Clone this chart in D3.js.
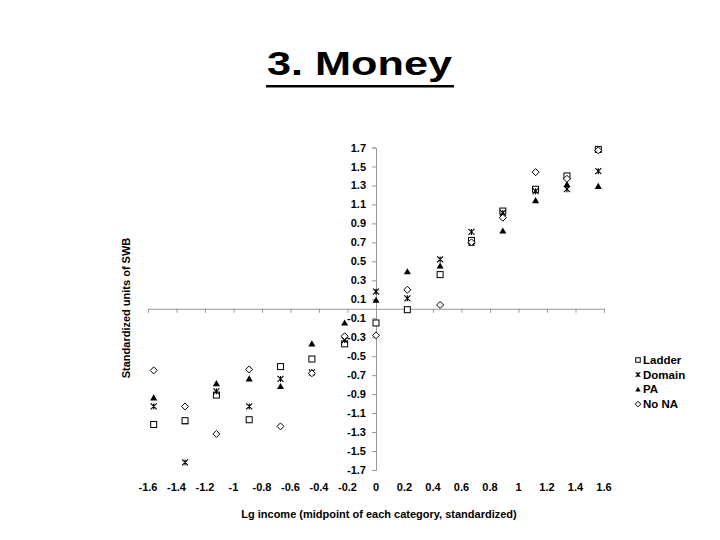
<!DOCTYPE html>
<html>
<head>
<meta charset="utf-8">
<script src="https://cdn.jsdelivr.net/npm/d3@7"></script>
<style>
  body { margin: 0; background: #fff; }
  text { font-family: "Liberation Sans", Arial, sans-serif; font-weight: bold; fill: #000; }
</style>
</head>
<body>
<div id="chart"></div>
<script>
// DATA
var incomeMid = [-1.56, -1.34, -1.12, -0.89, -0.67, -0.45, -0.22, 0, 0.22, 0.45, 0.67, 0.89, 1.12, 1.34, 1.56];
var ladder = [-1.22, -1.18, -0.91, -1.17, -0.61, -0.53, -0.37, -0.15, -0.01, 0.36, 0.72, 1.03, 1.26, 1.40, 1.68];
var domain = [-1.03, -1.62, -0.87, -1.03, -0.74, -0.67, -0.33, 0.18, 0.11, 0.52, 0.81, 1.01, 1.24, 1.26, 1.45];
var pa = [-0.94, -1.19, -0.79, -0.74, -0.82, -0.37, -0.15, 0.09, 0.39, 0.45, 0.69, 0.82, 1.14, 1.31, 1.29];
var noNA = [-0.65, -1.03, -1.32, -0.64, -1.24, -0.68, -0.29, -0.28, 0.20, 0.04, 0.70, 0.96, 1.44, 1.37, 1.67];

var xTicks = [-1.6, -1.4, -1.2, -1, -0.8, -0.6, -0.4, -0.2, 0, 0.2, 0.4, 0.6, 0.8, 1, 1.2, 1.4, 1.6];
var yTicks = [-1.7, -1.5, -1.3, -1.1, -0.9, -0.7, -0.5, -0.3, -0.1, 0.1, 0.3, 0.5, 0.7, 0.9, 1.1, 1.3, 1.5, 1.7];
var seriesNames = ["Ladder", "Domain", "PA", "No NA"];

function chart() {
  var width = 720, height = 540;
  var axisColor = "#999";

  var svg = d3.select("#chart").append("svg")
    .attr("width", width)
    .attr("height", height);

  // SCALES
  var xScale = d3.scaleLinear().domain([-1.6, 1.6]).range([148, 604]);
  var yScale = d3.scaleLinear().domain([-1.7, 1.7]).range([470, 147.5]);

  // TITLE
  svg.append("text")
    .attr("x", 267)
    .attr("y", 75)
    .attr("textLength", 185)
    .attr("lengthAdjust", "spacingAndGlyphs")
    .style("font-size", "33px")
    .text("3. Money");
  svg.append("rect")
    .attr("x", 266).attr("y", 85)
    .attr("width", 188).attr("height", 2.5)
    .attr("fill", "#000");

  // X AXIS (crosses at y = 0, labels at the bottom)
  var xAxis = d3.axisBottom(xScale).tickValues(xTicks).tickSize(4).tickFormat("");
  var gx = svg.append("g")
    .attr("transform", "translate(0," + yScale(0) + ")")
    .call(xAxis);
  gx.select(".domain").attr("stroke", axisColor);
  gx.selectAll(".tick line").attr("stroke", axisColor);

  svg.selectAll(".x-lab")
    .data(xTicks)
    .enter()
    .append("text")
    .attr("class", "x-lab")
    .attr("x", (d) => xScale(d))
    .attr("y", 491)
    .attr("text-anchor", "middle")
    .style("font-size", "11px")
    .text((d) => d3.format("")(d).replace("−", "-"));

  // Y AXIS (at x = 0)
  var yAxis = d3.axisLeft(yScale).tickValues(yTicks).tickSize(4).tickPadding(6)
    .tickFormat(d3.format(".1f"));
  var gy = svg.append("g")
    .attr("transform", "translate(" + xScale(0) + ",0)")
    .call(yAxis);
  gy.select(".domain").attr("stroke", axisColor);
  gy.selectAll(".tick line").attr("stroke", axisColor);
  gy.selectAll(".tick text")
    .style("font-size", "11px")
    .style("font-family", "'Liberation Sans', Arial, sans-serif")
    .style("font-weight", "bold")
    .attr("fill", "#000")
    .text((d) => d3.format(".1f")(d).replace("−", "-"));

  // AXIS TITLES
  svg.append("text")
    .attr("x", 379)
    .attr("y", 518)
    .attr("text-anchor", "middle")
    .style("font-size", "11px")
    .text("Lg income (midpoint of each category, standardized)");
  svg.append("text")
    .attr("transform", "translate(130,308) rotate(-90)")
    .attr("text-anchor", "middle")
    .style("font-size", "11px")
    .text("Standardized units of SWB");

  // MARKERS
  function drawMarker(g, type, sz) {
    var h = sz / 2;
    if (type == "Ladder") {
      g.append("rect").attr("x", -h).attr("y", -h)
        .attr("width", sz).attr("height", sz)
        .attr("fill", "#fff").attr("stroke", "#000").attr("stroke-width", 1);
    } else if (type == "Domain") {
      g.append("path")
        .attr("d", "M" + -h + "," + -h + "L" + h + "," + h + "M" + -h + "," + h + "L" + h + "," + -h +
          "M0," + -h + "L0," + h)
        .attr("stroke", "#000").attr("stroke-width", 1.1).attr("fill", "none");
    } else if (type == "PA") {
      g.append("path")
        .attr("d", d3.symbol(d3.symbolTriangle, sz * sz * 0.6)())
        .attr("transform", "translate(0,0.5)")
        .attr("fill", "#000");
    } else {
      var r = h + 0.5;
      g.append("path")
        .attr("d", "M0," + -r + "L" + r + ",0L0," + r + "L" + -r + ",0Z")
        .attr("fill", "#fff").attr("stroke", "#000").attr("stroke-width", 1);
    }
  }

  var seriesData = { Ladder: ladder, Domain: domain, PA: pa, "No NA": noNA };
  // PA first so the hollow markers sit on top where points overlap
  var drawOrder = ["PA", "Ladder", "Domain", "No NA"];
  drawOrder.forEach(function (name) {
    svg.append("g").attr("class", "series")
      .selectAll("g")
      .data(seriesData[name].map((v, i) => ({ x: incomeMid[i], y: v })))
      .enter()
      .append("g")
      .attr("transform", (d) => "translate(" + xScale(d.x) + "," + yScale(d.y) + ")")
      .each(function () { drawMarker(d3.select(this), name, 6); });
  });

  // LEGEND
  var legend = svg.append("g").attr("transform", "translate(638,360)");
  var items = legend.selectAll("g")
    .data(seriesNames)
    .enter()
    .append("g")
    .attr("transform", (d, i) => "translate(0," + i * 14.7 + ")");
  items.each(function (d) {
    var g = d3.select(this).append("g");
    drawMarker(g, d, 4.5);
  });
  items.append("text")
    .attr("x", 5)
    .attr("y", 4)
    .style("font-size", "11.5px")
    .text((d) => d);
}

chart();
</script>
</body>
</html>
